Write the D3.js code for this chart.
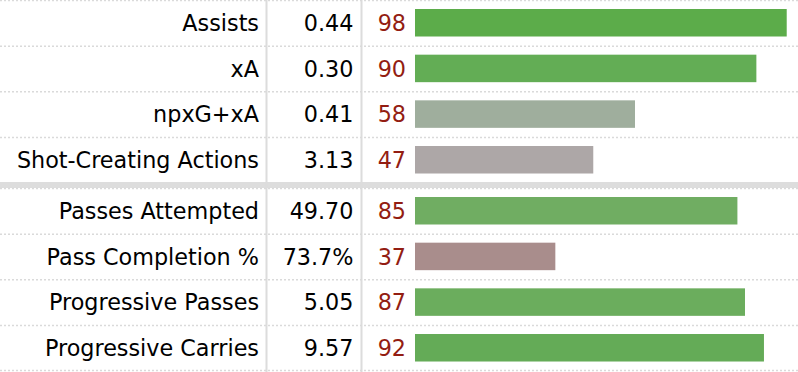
<!DOCTYPE html>
<html>
<head>
<meta charset="utf-8">
<script src="https://cdn.jsdelivr.net/npm/d3@7.9.0/dist/d3.min.js"></script>
<style>
  html, body { margin: 0; padding: 0; background: #fff; }
  svg { display: block; }
  text { font-family: Verdana, "DejaVu Sans", sans-serif; font-size: 22.3px; }
</style>
</head>
<body>
<svg id="chart" width="798" height="372"></svg>
<script>
// two blocks of stats, split by the grey band
const statsTop = ['Assists', 'xA', 'npxG+xA', 'Shot-Creating Actions'];
const valuesTop = ['0.44', '0.30', '0.41', '3.13'];
const pctTop = [98, 90, 58, 47];
const colorsTop = ['#5cac4a', '#63ad55', '#9fae9d', '#ada7a7'];

const statsBottom = ['Passes Attempted', 'Pass Completion %', 'Progressive Passes', 'Progressive Carries'];
const valuesBottom = ['49.70', '73.7%', '5.05', '9.57'];
const pctBottom = [85, 37, 87, 92];
const colorsBottom = ['#70ad62', '#a98d8c', '#6bad5d', '#64ab57'];

const width = 798, height = 372;
const svg = d3.select('#chart');

const x = d3.scaleLinear().domain([0, 100]).range([415, 794.3]);
const rowH = 45.67;

const blocks = [
  { stats: statsTop, values: valuesTop, pct: pctTop, colors: colorsTop, y0: 0 },
  { stats: statsBottom, values: valuesBottom, pct: pctBottom, colors: colorsBottom, y0: 188 }
];

// grey band between blocks
svg.append('rect')
  .attr('x', 0).attr('y', 182)
  .attr('width', width).attr('height', 6)
  .attr('fill', '#dddddd');

// column separators
[266.5, 361.5].forEach((cx) => {
  svg.append('line')
    .attr('x1', cx).attr('x2', cx)
    .attr('y1', 0).attr('y2', height)
    .attr('stroke', '#dcdcdc')
    .attr('stroke-width', 2);
});

blocks.forEach((b) => {
  const y = d3.scaleBand()
    .domain(b.stats)
    .range([b.y0, b.y0 + rowH * b.stats.length])
    .paddingInner(0);

  const rows = svg.append('g')
    .selectAll('g')
    .data(b.stats)
    .join('g')
    .attr('transform', (d) => `translate(0,${y(d)})`);

  // dotted row border
  rows.append('line')
    .attr('x1', 0).attr('x2', width)
    .attr('y1', 0.5).attr('y2', 0.5)
    .attr('stroke', '#dadada')
    .attr('stroke-width', 1.5)
    .attr('stroke-dasharray', '2,2');

  rows.append('text')
    .attr('x', 259).attr('y', 31)
    .attr('text-anchor', 'end')
    .attr('fill', '#000')
    .text((d) => d);

  rows.append('text')
    .attr('x', 353.5).attr('y', 31)
    .attr('text-anchor', 'end')
    .attr('fill', '#000')
    .text((d, i) => b.values[i]);

  rows.append('text')
    .attr('x', 406).attr('y', 31)
    .attr('text-anchor', 'end')
    .attr('fill', '#931d12')
    .text((d, i) => b.pct[i]);

  rows.append('rect')
    .attr('x', x(0))
    .attr('y', 9)
    .attr('width', (d, i) => x(b.pct[i]) - x(0))
    .attr('height', 27.5)
    .attr('fill', (d, i) => b.colors[i]);
});

// bottom dotted border
svg.append('line')
  .attr('x1', 0).attr('x2', width)
  .attr('y1', 370.5).attr('y2', 370.5)
  .attr('stroke', '#dadada')
  .attr('stroke-width', 1.5)
  .attr('stroke-dasharray', '2,2');
</script>
</body>
</html>
